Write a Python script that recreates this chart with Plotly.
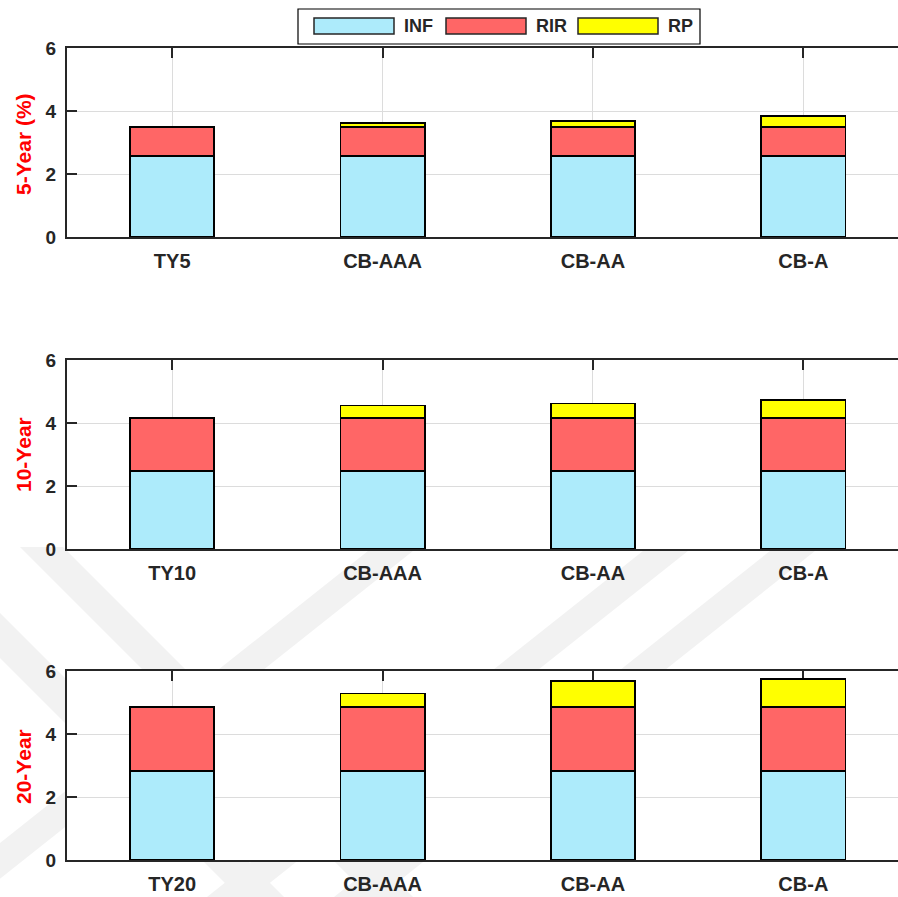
import plotly.graph_objects as go
from plotly.subplots import make_subplots

# Yield decomposition (%) by maturity: inflation, real interest rate, risk premium
maturities = ["5-Year (%)", "10-Year", "20-Year"]
categories_5y = ["TY5", "CB-AAA", "CB-AA", "CB-A"]
categories_10y = ["TY10", "CB-AAA", "CB-AA", "CB-A"]
categories_20y = ["TY20", "CB-AAA", "CB-AA", "CB-A"]

inf_5y = [2.57, 2.57, 2.57, 2.57]
rir_5y = [0.93, 0.93, 0.93, 0.93]
rp_5y = [0.00, 0.11, 0.19, 0.34]

inf_10y = [2.48, 2.48, 2.48, 2.48]
rir_10y = [1.67, 1.67, 1.67, 1.67]
rp_10y = [0.02, 0.41, 0.47, 0.58]

inf_20y = [2.83, 2.83, 2.83, 2.83]
rir_20y = [2.02, 2.02, 2.02, 2.02]
rp_20y = [0.02, 0.44, 0.84, 0.90]

series_names = ["INF", "RIR", "RP"]
series_colors = ["#ADEBFB", "#FF6666", "#FFFF00"]

panels = [
    (categories_5y, [inf_5y, rir_5y, rp_5y]),
    (categories_10y, [inf_10y, rir_10y, rp_10y]),
    (categories_20y, [inf_20y, rir_20y, rp_20y]),
]

W, H = 898, 897
INK = "#262626"
FONT = "Liberation Sans"


def px(x):
    return x / W


def py(y):
    return 1 - y / H


# plot-area boxes in pixels: (top, bottom)
plot_left = 67
plot_rows = [(48, 237), (360, 549), (671, 860)]

fig = make_subplots(rows=3, cols=1)

for r, (cats, series) in enumerate(panels, start=1):
    for name, color, vals in zip(series_names, series_colors, series):
        fig.add_trace(
            go.Bar(
                x=cats, y=vals, name=name, width=0.4,
                marker=dict(color=color, line=dict(color="black", width=1.7)),
                showlegend=False,
            ),
            row=r, col=1,
        )

layout_axes = {}
for i, (top, bot) in enumerate(plot_rows, start=1):
    sfx = "" if i == 1 else str(i)
    layout_axes["xaxis" + sfx] = dict(
        domain=[px(plot_left), 1.0], range=[-0.5, 3.45], automargin=False,
        showline=True, linecolor=INK, linewidth=2, mirror="ticks",
        ticks="inside", ticklen=10, tickwidth=1.5, tickcolor=INK,
        showgrid=True, gridcolor="#dcdcdc", gridwidth=1,
        tickfont=dict(family=FONT, size=20, color=INK, weight="bold"),
        ticklabelstandoff=5, layer="below traces", fixedrange=True,
    )
    layout_axes["yaxis" + sfx] = dict(
        domain=[py(bot), py(top)], range=[0, 6], tickvals=[0, 2, 4, 6],
        automargin=False,
        showline=True, linecolor=INK, linewidth=2, mirror=False,
        ticks="inside", ticklen=10, tickwidth=1.5, tickcolor=INK,
        showgrid=True, gridcolor="#dcdcdc", gridwidth=1, zeroline=False,
        tickfont=dict(family=FONT, size=19, color=INK, weight="bold"),
        ticklabelstandoff=5, layer="below traces", fixedrange=True,
    )

shapes = []

# faint diagonal watermark bands behind the figure
bands = [
    [(20, 547), (63, 547), (413, 897), (370, 897)],
    [(-111, 547), (-66, 547), (284, 897), (239, 897)],
    [(373, 547), (418, 547), (-23, 897), (-68, 897)],
    [(648, 547), (693, 547), (252, 897), (207, 897)],
    [(775, 547), (820, 547), (379, 897), (334, 897)],
]
for poly in bands:
    path = "M " + " L ".join(f"{px(x):.5f},{py(y):.5f}" for x, y in poly) + " Z"
    shapes.append(dict(type="path", xref="paper", yref="paper", path=path,
                       fillcolor="#f2f2f2", line=dict(width=0), layer="below"))

# white plot areas over the watermark
for top, bot in plot_rows:
    shapes.append(dict(type="rect", xref="paper", yref="paper",
                       x0=px(plot_left), x1=1.0, y0=py(bot), y1=py(top),
                       fillcolor="white", line=dict(width=0), layer="below"))

# legend box
shapes.append(dict(type="rect", xref="paper", yref="paper",
                   x0=px(298), x1=px(700), y0=py(44), y1=py(9),
                   fillcolor="white", line=dict(color="black", width=1.2)))

annotations = []
legend_x = [314, 446, 578]
for x0, name, color in zip(legend_x, series_names, series_colors):
    shapes.append(dict(type="rect", xref="paper", yref="paper",
                       x0=px(x0), x1=px(x0 + 80), y0=py(34), y1=py(18),
                       fillcolor=color, line=dict(color=INK, width=1.5)))
    annotations.append(dict(x=px(x0 + 88), y=py(26), xref="paper", yref="paper",
                            text=name, showarrow=False, xanchor="left", yanchor="middle",
                            font=dict(family=FONT, size=18, color=INK, weight="bold")))

# maturity labels on the left of each panel
title_centres = [144, 455, 767]
for label, yc in zip(maturities, title_centres):
    annotations.append(dict(x=px(23), y=py(yc), xref="paper", yref="paper",
                            text=label, textangle=-90, showarrow=False,
                            xanchor="center", yanchor="middle",
                            font=dict(family=FONT, size=21, color="#FF0000", weight="bold")))

fig.update_layout(
    width=W, height=H, margin=dict(l=0, r=0, t=0, b=0, autoexpand=False),
    paper_bgcolor="white", plot_bgcolor="white",
    barmode="stack", bargap=0.6, showlegend=False,
    shapes=shapes, annotations=annotations,
    **layout_axes,
)

fig.write_html("out.html")
